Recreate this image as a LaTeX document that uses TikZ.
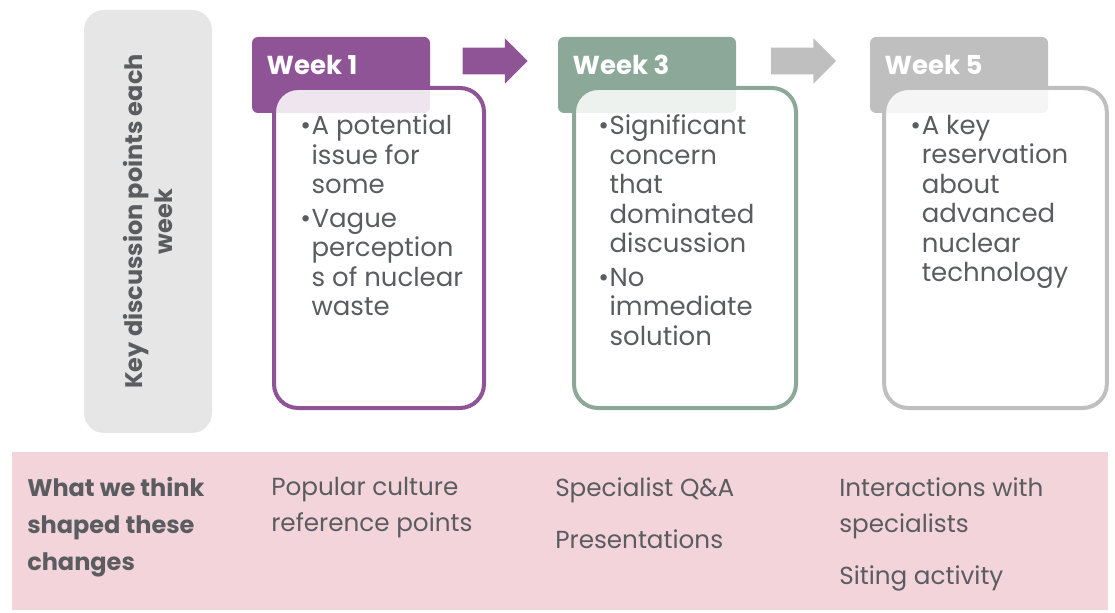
\documentclass[tikz,border=0pt]{standalone}
\usepackage{fontspec}
\setmainfont{Poppins}
\usetikzlibrary{positioning}
\usetikzlibrary{shapes.arrows}

\definecolor{wkpurple}{RGB}{142,84,149}
\definecolor{wkgreen}{RGB}{139,168,152}
\definecolor{wkgrey}{RGB}{191,191,191}
\definecolor{sidegrey}{RGB}{230,230,230}
\definecolor{bandpink}{RGB}{242,212,218}
\definecolor{txtgrey}{RGB}{90,92,96}

\newcommand{\wkbullet}{\makebox[8.5pt][l]{\textbullet}}
\newcommand{\wkindent}{\hspace*{8.5pt}}

\tikzset{
  weekhead/.style={rounded corners=4.5pt, minimum width=133.5pt, minimum height=57pt, inner sep=0pt},
  headtext/.style={text=white, font=\bfseries\fontsize{19.5}{22}\selectfont, inner sep=0pt, anchor=west},
  weekbody/.style={rounded corners=18pt, line width=3pt, fill=white, fill opacity=0.85, minimum height=240pt, inner sep=0pt},
  bodytext/.style={text=txtgrey, font=\fontsize{19.5}{22.1}\selectfont, align=left, inner sep=0pt, anchor=north west},
  weekarrow/.style={single arrow, single arrow head extend=7.1pt, inner xsep=0pt, inner ysep=9.75pt, minimum height=48.75pt},
  bandtext/.style={text=txtgrey, font=\fontsize{18.5}{27}\selectfont, align=left, inner sep=0pt, anchor=north west}
}

\begin{document}
\begin{tikzpicture}[x=0.75pt,y=-0.75pt]
  \useasboundingbox (0,0) rectangle (1115,613);

  % side label
  \node[fill=sidegrey, rounded corners=15pt, minimum width=96pt, minimum height=317.25pt, inner sep=0pt] (side) at (148,221.5) {};
  \node[rotate=90, text=txtgrey, font=\bfseries\fontsize{18}{22.5}\selectfont, align=center] (sidelbl) at (side.center) {Key discussion points each\\week};

  % week 1
  \node[weekhead, fill=wkpurple] (w1head) at (341,75) {};
  \node[headtext] (w1lbl) at ([xshift=11pt, yshift=-21pt]w1head.north west) {Week 1};
  \node[weekbody, draw=wkpurple, minimum width=157.5pt] (w1body) at (379,248) {};
  \node[bodytext] (w1txt) at ([xshift=21pt, yshift=-21.5pt]w1body.north west)
    {\wkbullet A potential\\ \wkindent issue for\\ \wkindent some\\[3pt]
     \wkbullet Vague\\ \wkindent perception\\ \wkindent s of nuclear\\ \wkindent waste};

  % week 3
  \node[weekhead, fill=wkgreen] (w3head) at (647,75) {};
  \node[headtext] (w3lbl) at ([xshift=11pt, yshift=-21pt]w3head.north west) {Week 3};
  \node[weekbody, draw=wkgreen, minimum width=166.5pt] (w3body) at (685,248) {};
  \node[bodytext] (w3txt) at ([xshift=19.5pt, yshift=-21.5pt]w3body.north west)
    {\wkbullet Significant\\ \wkindent concern\\ \wkindent that\\ \wkindent dominated\\ \wkindent discussion\\[3pt]
     \wkbullet No\\ \wkindent immediate\\ \wkindent solution};

  % week 5
  \node[weekhead, fill=wkgrey] (w5head) at (959,75) {};
  \node[headtext] (w5lbl) at ([xshift=11pt, yshift=-21pt]w5head.north west) {Week 5};
  \node[weekbody, draw=wkgrey, minimum width=167pt] (w5body) at (995.5,248) {};
  \node[bodytext] (w5txt) at ([xshift=21pt, yshift=-21.5pt]w5body.north west)
    {\wkbullet A key\\ \wkindent reservation\\ \wkindent about\\ \wkindent advanced\\ \wkindent nuclear\\ \wkindent technology};

  % arrows between weeks
  \node[weekarrow, fill=wkpurple] (arr1) at (488.5,61) {};
  \node[weekarrow, fill=wkgrey] (arr2) at (797,61) {};

  % bottom band
  \node[fill=bandpink, minimum width=822pt, minimum height=118.5pt, inner sep=0pt] (band) at (560,531) {};
  \node[bandtext, font=\bfseries\fontsize{18}{27.75}\selectfont] (shaped) at (27,477) {What we think\\shaped these\\changes};
  \node[bandtext] (popular) at (271,477) {Popular culture\\reference points};
  \node[bandtext] (specialist) at (555,477) {Specialist Q\&A\\[12pt]Presentations};
  \node[bandtext] (interact) at (839,477) {Interactions with\\specialists\\[12pt]Siting activity};
\end{tikzpicture}
\end{document}
